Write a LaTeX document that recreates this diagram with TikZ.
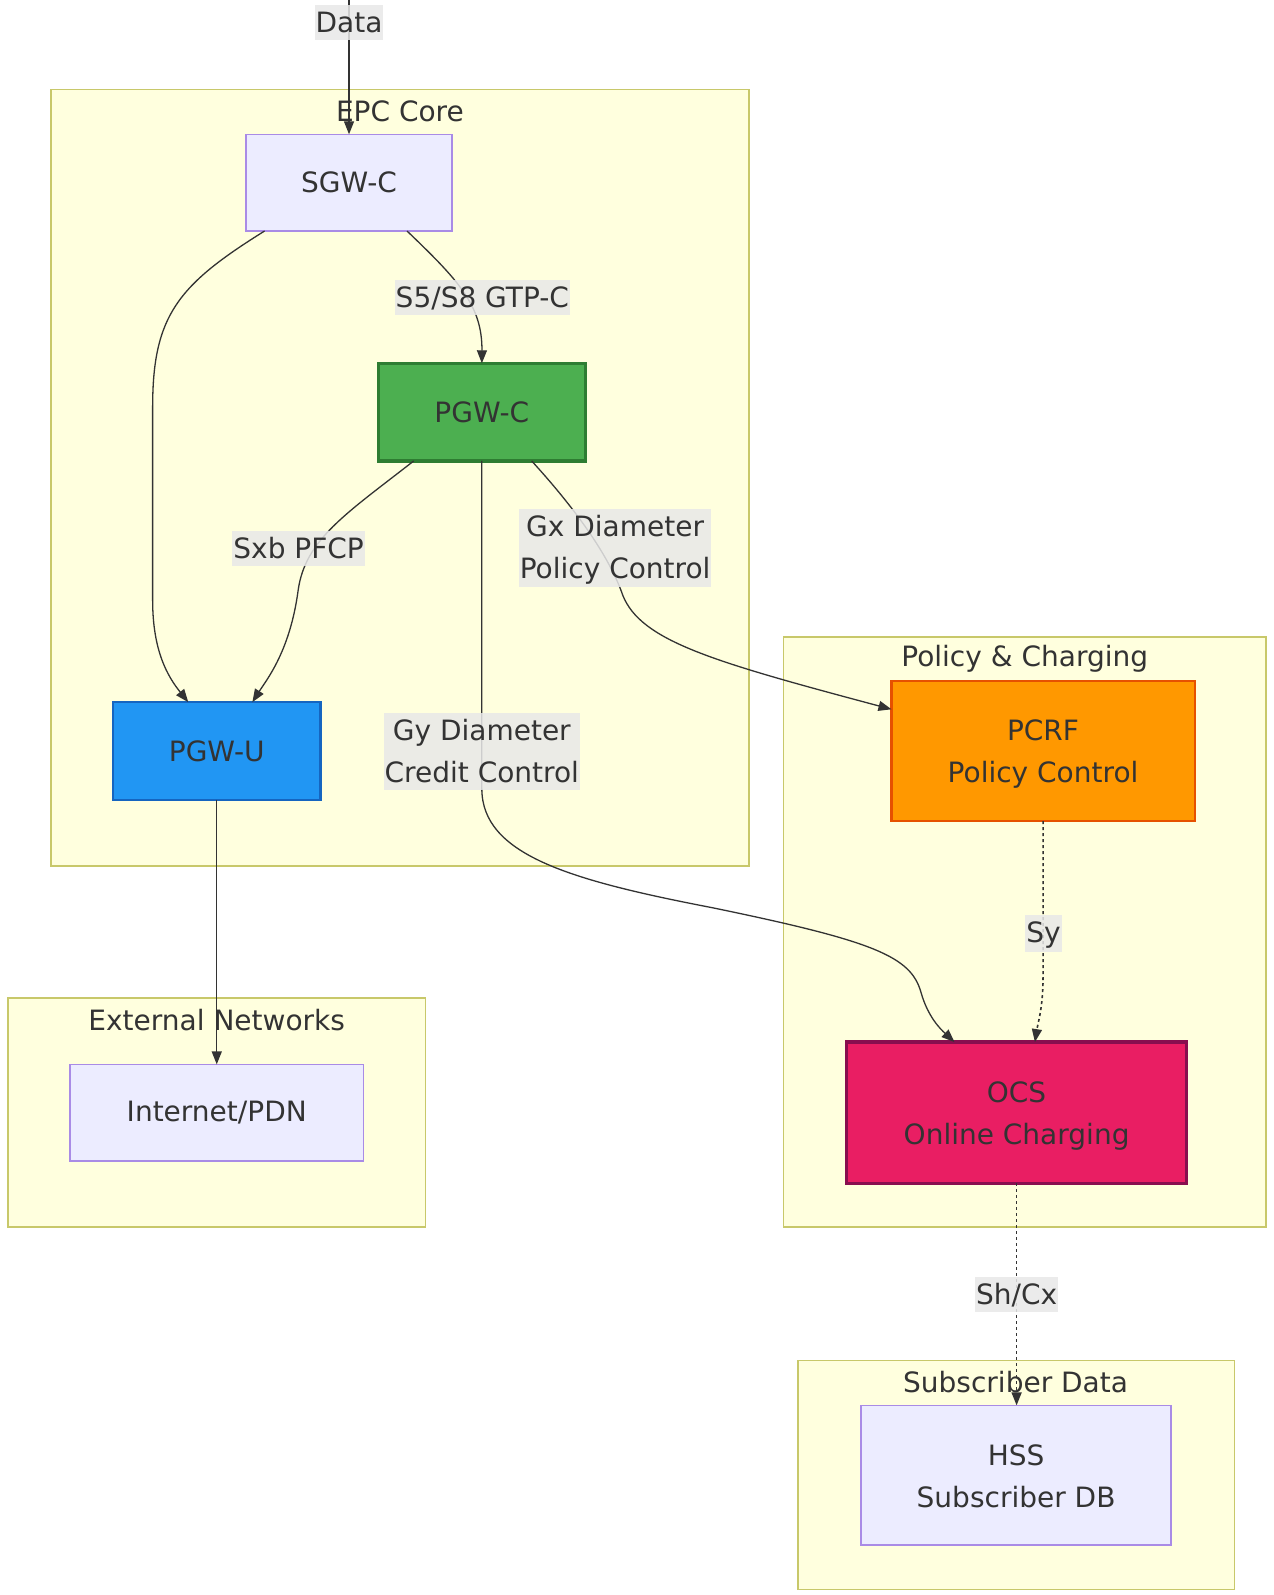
\documentclass[tikz,border=0pt]{standalone}
\usepackage{fontspec}
\setmainfont{DejaVu Sans}
\usetikzlibrary{arrows.meta,calc}
\definecolor{txt}{HTML}{333333}
\definecolor{clfill}{HTML}{FFFFDE}
\definecolor{cldraw}{HTML}{C8C86A}
\definecolor{defill}{HTML}{ECECFF}
\definecolor{dedraw}{HTML}{A98BE6}
\definecolor{lblbg}{HTML}{E8E8E8}
\definecolor{gfill}{HTML}{4CAF50}
\definecolor{gdraw}{HTML}{2E7D32}
\definecolor{bfill}{HTML}{2196F3}
\definecolor{bdraw}{HTML}{1565C0}
\definecolor{ofill}{HTML}{FF9800}
\definecolor{odraw}{HTML}{E65100}
\definecolor{pfill}{HTML}{E91E63}
\definecolor{pdraw}{HTML}{880E4F}
\newcommand\fs{\fontsize{28}{42}\selectfont}
\newcommand\lstrut{\rule[-4pt]{0pt}{28pt}}
\newcommand\nstrut{\rule[-5pt]{0pt}{32pt}}
\tikzset{
  cluster/.style={fill=clfill,draw=cldraw,line width=1.6pt},
  ctitle/.style={font=\fs,text=txt,inner sep=0pt},
  box/.style={rectangle,font=\fs,text=txt,align=center,inner sep=0pt,outer sep=0pt},
  defbox/.style={box,fill=defill,draw=dedraw,line width=1.6pt},
  edge/.style={draw=txt,line width=1.3pt,-{Triangle[length=13pt,width=10pt]}},
  dotedge/.style={draw=txt,line width=1.6pt,dash pattern=on 3pt off 3pt,-{Triangle[length=13pt,width=10pt]}},
  lbl/.style={font=\fs,text=txt,fill=lblbg,fill opacity=0.85,text opacity=1,align=center,inner xsep=1pt,inner ysep=3.5pt},
}
\begin{document}
\begin{tikzpicture}[x=1.0176pt,y=-1.0176pt]
\useasboundingbox[fill=white] (0,0) rectangle (1251,1567.4);
% clusters
\draw[cluster] (50,88) rectangle (736,851);
\draw[cluster] (770,626) rectangle (1244,1206);
\draw[cluster] (8,981) rectangle (418,1206);
\draw[cluster] (784,1337) rectangle (1213,1562);
\node[ctitle] (tEPC) at (393,109) {EPC Core};
\node[ctitle] (tPol) at (1007,647) {Policy \& Charging};
\node[ctitle] (tExt) at (213,1002) {External Networks};
\node[ctitle] (tSub) at (998,1358) {Subscriber Data};
% nodes
\node[defbox,minimum width=205.6pt,minimum height=96.7pt] (sgw) at (343,179.5) {SGW-C};
\node[box,fill=gfill,draw=gdraw,line width=3.2pt,minimum width=206.6pt,minimum height=97.7pt] (pgwc) at (473.5,405) {PGW-C};
\node[box,fill=bfill,draw=bdraw,line width=2.6pt,minimum width=207.6pt,minimum height=97.7pt] (pgwu) at (213,738) {PGW-U};
\node[box,fill=ofill,draw=odraw,line width=2.2pt,minimum width=303.2pt,minimum height=140.4pt] (pcrf) at (1025,738) {\nstrut PCRF\\\nstrut Policy Control};
\node[box,fill=pfill,draw=pdraw,line width=3.2pt,minimum width=339.9pt,minimum height=141.4pt] (ocs) at (999,1093.5) {\nstrut OCS\\\nstrut Online Charging};
\node[defbox,minimum width=293.1pt,minimum height=96.7pt] (inet) at (213,1093.5) {Internet/PDN};
\node[defbox,minimum width=310.4pt,minimum height=139.4pt] (hss) at (998.5,1449.5) {\nstrut HSS\\\nstrut Subscriber DB};
% edges
\coordinate (src) at (343,0);
\draw[edge] (src) -- (sgw.north);
\draw[edge] ($(sgw.south)+(-83,0)$) .. controls (175,280) and (150,310) .. (150,400) -- (150,590) .. controls (150,640) and (165,665) .. ($(pgwu.north)+(-28,0)$);
\draw[edge] ($(sgw.south)+(57,0)$) .. controls (450,275) and (474,300) .. (pgwc.north);
\draw[edge] ($(pgwc.south)+(-67,0)$) .. controls (340,505) and (300,530) .. (293,580) .. controls (285,640) and (262,668) .. ($(pgwu.north)+(35,0)$);
\draw[edge] ($(pgwc.south)+(49,0)$) .. controls (570,505) and (600,550) .. (612,585) .. controls (630,630) and (700,650) .. ($(pcrf.north west)+(0,28)$);
\draw[edge] (pgwc.south) -- (473.5,775) .. controls (473.5,840) and (560,865) .. (700,892) .. controls (860,925) and (895,940) .. (905,975) .. controls (912,1000) and (925,1012) .. ($(ocs.north)+(-61,0)$);
\draw[dotedge] (pcrf.south) -- (1025,960) .. controls (1025,990) and (1020,1005) .. ($(ocs.north)+(18,0)$);
\draw[edge] (pgwu.south) -- (inet.north);
\draw[dotedge] (ocs.south) -- (ocs.south |- hss.north);
% labels
\node[lbl] (lData) at (343,22.5) {\lstrut Data};
\node[lbl] (lS5) at (474,292) {\lstrut S5/S8 GTP-C};
\node[lbl] (lSxb) at (293.5,539) {\lstrut Sxb PFCP};
\node[lbl] (lGx) at (604.5,538.5) {\lstrut Gx Diameter\\\lstrut Policy Control};
\node[lbl] (lGy) at (473.5,738.5) {\lstrut Gy Diameter\\\lstrut Credit Control};
\node[lbl] (lSy) at (1025.5,917) {\lstrut Sy};
\node[lbl] (lSh) at (999,1272) {\lstrut Sh/Cx};
\end{tikzpicture}
\end{document}
